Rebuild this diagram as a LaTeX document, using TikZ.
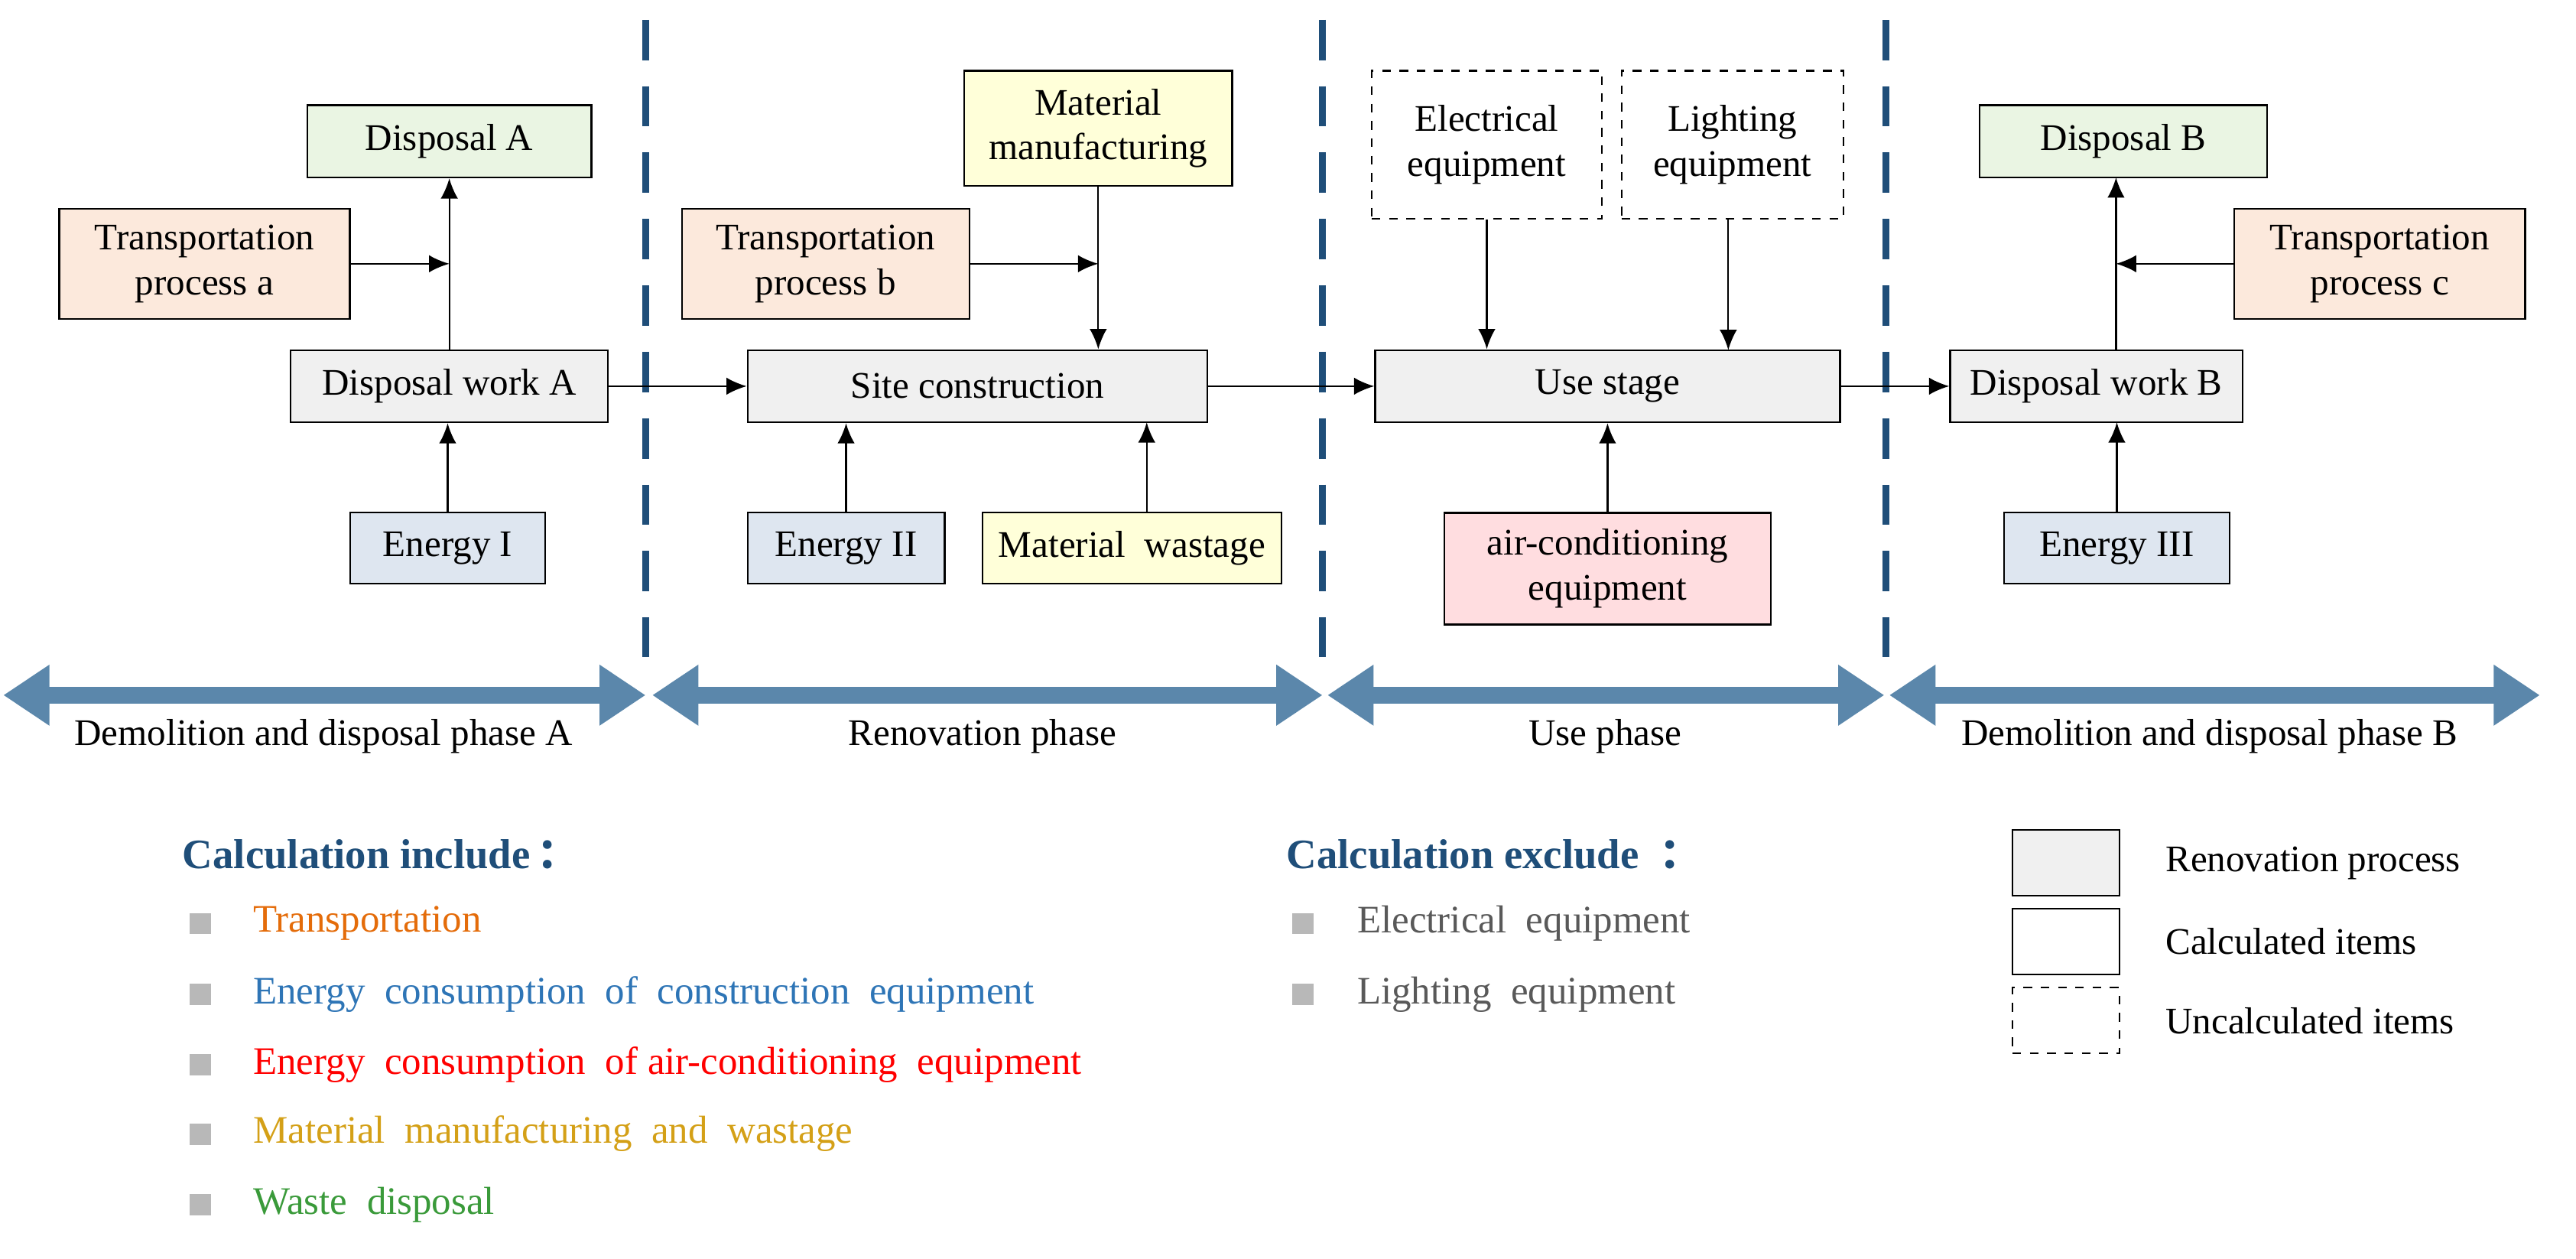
\documentclass[tikz,border=0pt]{standalone}
\usepackage{fontspec}
\setmainfont{Liberation Serif}
\newfontfamily\cjk{Noto Sans CJK SC}
\usetikzlibrary{arrows.meta}
\definecolor{dblue}{HTML}{1F4E79}
\definecolor{sblue}{HTML}{5B87AB}
\definecolor{cgray}{HTML}{F0F0F0}
\definecolor{cgreen}{HTML}{EAF5E3}
\definecolor{cpeach}{HTML}{FCE9DC}
\definecolor{cblue}{HTML}{DEE6F0}
\definecolor{cyel}{HTML}{FFFFD9}
\definecolor{cpink}{HTML}{FFDDE0}
\definecolor{tor}{HTML}{E46C0A}
\definecolor{tbl}{HTML}{2E75B6}
\definecolor{tgo}{HTML}{D4A017}
\definecolor{tgr}{HTML}{3A9A3A}
\definecolor{tgy}{HTML}{595959}
\tikzset{
 box/.style={draw, line width=0.6pt, align=center, inner sep=1pt, font=\fontsize{13}{15.5}\selectfont},
 dbox/.style={box, dashed},
 arr/.style={-{Latex[length=7pt,width=6pt]}, line width=0.6pt},
 sep/.style={dblue, line width=2.2pt, dash pattern=on 14pt off 9pt},
 phase/.style={sblue, line width=6pt, {Triangle[length=16pt,width=20pt]}-{Triangle[length=16pt,width=20pt]}},
 plab/.style={font=\fontsize{13}{15}\selectfont},
 sq/.style={fill=black!28, minimum size=0.26cm, inner sep=0pt},
 li/.style={anchor=west, font=\fontsize{13.5}{16}\selectfont},
 hd/.style={anchor=west, font=\fontsize{14.5}{17}\selectfont\bfseries, text=dblue}
}
\begin{document}
\begin{tikzpicture}[x=0.02cm,y=-0.02cm]
\useasboundingbox (0,0) rectangle (1568,766);
% separators
\coordinate (s1t) at (393,12); \coordinate (s1b) at (393,400);
\coordinate (s2t) at (805,12); \coordinate (s2b) at (805,400);
\coordinate (s3t) at (1148,12); \coordinate (s3b) at (1148,400);
\draw[sep] (s1t) -- (s1b); \draw[sep] (s2t) -- (s2b); \draw[sep] (s3t) -- (s3b);
% boxes
\node[box, fill=cgreen, minimum width=3.46cm, minimum height=0.88cm] (DispA) at (273.5,86) {Disposal A};
\node[box, fill=cpeach, minimum width=3.54cm, minimum height=1.34cm] (TrA) at (124.5,160.5) {Transportation\\process a};
\node[box, fill=cgray, minimum width=3.86cm, minimum height=0.88cm] (DWA) at (273.5,235) {Disposal work A};
\node[box, fill=cblue, minimum width=2.38cm, minimum height=0.86cm] (EnI) at (272.5,333.5) {Energy I};
\node[box, fill=cyel, minimum width=3.26cm, minimum height=1.4cm] (MatM) at (668.5,78) {Material\\manufacturing};
\node[box, fill=cpeach, minimum width=3.5cm, minimum height=1.34cm] (TrB) at (502.5,160.5) {Transportation\\process b};
\node[box, fill=cgray, minimum width=5.6cm, minimum height=0.88cm] (Site) at (595,235) {Site construction};
\node[box, fill=cblue, minimum width=2.4cm, minimum height=0.86cm] (EnII) at (515,333.5) {Energy II};
\node[box, fill=cyel, minimum width=3.64cm, minimum height=0.86cm] (MatW) at (689,333.5) {Material\ \ wastage};
\node[dbox, minimum width=2.8cm, minimum height=1.8cm] (Elec) at (905,88) {Electrical\\equipment};
\node[dbox, minimum width=2.7cm, minimum height=1.8cm] (Light) at (1054.5,88) {Lighting\\equipment};
\node[box, fill=cgray, minimum width=5.66cm, minimum height=0.88cm] (Use) at (978.5,235) {Use stage};
\node[box, fill=cpink, minimum width=3.98cm, minimum height=1.36cm] (AC) at (978.5,346) {air-conditioning\\equipment};
\node[box, fill=cgreen, minimum width=3.5cm, minimum height=0.88cm] (DispB) at (1292.5,86) {Disposal B};
\node[box, fill=cpeach, minimum width=3.54cm, minimum height=1.34cm] (TrC) at (1448.5,160.5) {Transportation\\process c};
\node[box, fill=cgray, minimum width=3.56cm, minimum height=0.88cm] (DWB) at (1276,235) {Disposal work B};
\node[box, fill=cblue, minimum width=2.74cm, minimum height=0.86cm] (EnIII) at (1288.5,333.5) {Energy III};
% arrows
\draw[arr] (DWA.north -| DispA.south) -- (DispA.south);
\draw[arr] (TrA.east) -- (TrA.east -| DispA.south);
\draw[arr] (EnI.north) -- (EnI.north |- DWA.south);
\draw[arr] (DWA.east) -- (Site.west);
\draw[arr] (MatM.south) -- (MatM.south |- Site.north);
\draw[arr] (TrB.east) -- (TrB.east -| MatM.south);
\draw[arr] (EnII.north) -- (EnII.north |- Site.south);
\draw[arr] (MatW.north -| 698,0) -- (698,257);
\draw[arr] (Site.east) -- (Use.west);
\draw[arr] (Elec.south) -- (Elec.south |- Use.north);
\draw[arr] (Light.south -| 1052,0) -- (1052,213);
\draw[arr] (AC.north) -- (Use.south);
\draw[arr] (Use.east) -- (DWB.west);
\draw[arr] (DWB.north -| 1288,0) -- (1288,108);
\draw[arr] (TrC.west) -- (1288,160.5);
\draw[arr] (EnIII.north) -- (1288.5,257);
% phases
\coordinate (p1a) at (2,423); \coordinate (p1b) at (393,423);
\coordinate (p2a) at (397,423); \coordinate (p2b) at (805,423);
\coordinate (p3a) at (808,423); \coordinate (p3b) at (1147,423);
\coordinate (p4a) at (1150,423); \coordinate (p4b) at (1546,423);
\draw[phase] (p1a) -- (p1b); \draw[phase] (p2a) -- (p2b);
\draw[phase] (p3a) -- (p3b); \draw[phase] (p4a) -- (p4b);
\node[plab] (l1) at (197,448) {Demolition and disposal phase A};
\node[plab] (l2) at (598,448) {Renovation phase};
\node[plab] (l3) at (977,448) {Use phase};
\node[plab] (l4) at (1345,448) {Demolition and disposal phase B};
% legend include
\node[hd] (h1) at (105,520) {Calculation include\,{\cjk ：}};
\node[sq] (q1) at (122,562) {}; \node[li, text=tor] (t1) at (148,562) {Transportation};
\node[sq] (q2) at (122,605) {}; \node[li, text=tbl] (t2) at (148,605) {Energy\ \ consumption\ \ of\ \ construction\ \ equipment};
\node[sq] (q3) at (122,648) {}; \node[li, text=red] (t3) at (148,648) {Energy\ \ consumption\ \ of\ air-conditioning\ \ equipment};
\node[sq] (q4) at (122,690) {}; \node[li, text=tgo] (t4) at (148,690) {Material\ \ manufacturing\ \ and\ \ wastage};
\node[sq] (q5) at (122,733) {}; \node[li, text=tgr] (t5) at (148,733) {Waste\ \ disposal};
% legend exclude
\node[hd] (h2) at (777,520) {Calculation exclude\ \ {\cjk ：}};
\node[sq] (q6) at (793,562) {}; \node[li, text=tgy] (t6) at (820,562) {Electrical\ \ equipment};
\node[sq] (q7) at (793,605) {}; \node[li, text=tgy] (t7) at (820,605) {Lighting\ \ equipment};
% legend boxes
\node[box, fill=cgray, minimum width=1.3cm, minimum height=0.8cm] (k1) at (1257.5,525) {};
\node[box, minimum width=1.3cm, minimum height=0.8cm] (k2) at (1257.5,573) {};
\node[dbox, minimum width=1.3cm, minimum height=0.8cm] (k3) at (1257.5,621) {};
\node[plab, anchor=west] at (1312,525) {Renovation process};
\node[plab, anchor=west] at (1312,573) {Calculated items};
\node[plab, anchor=west] at (1312,621) {Uncalculated items};
\end{tikzpicture}
\end{document}
